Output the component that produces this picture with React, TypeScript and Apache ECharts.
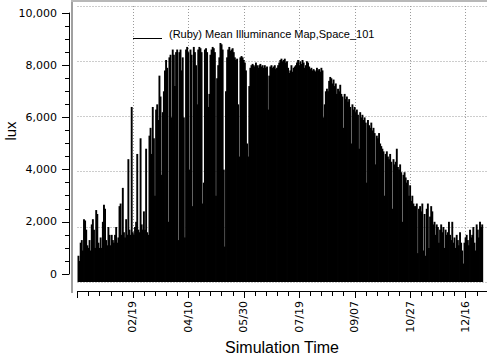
import React, { useEffect, useRef } from 'react';
import * as echarts from 'echarts';

// ---- data (daily peak illuminance, lux) ----
const seriesName = '(Ruby) Mean Illuminance Map,Space_101';
const xTickLabels = ['02/19', '04/10', '05/30', '07/19', '09/07', '10/27', '12/16'];
const jan = [700, 500, 1200, 1300, 900, 2100, 2050, 1700, 1100, 1000, 1300, 900, 1900, 2100, 1700, 1000, 2450, 2300, 1200, 1000, 1400, 1000, 2000, 2650, 2500, 1300, 1100, 1800, 1500, 1100, 1500];
const feb = [1300, 1200, 1500, 1800, 1200, 1400, 2600, 2700, 1500, 3300, 1600, 1400, 2100, 1500, 4400, 1700, 1500, 6400, 1600, 1500, 1800, 2000, 4600, 1700, 1600, 5200, 1900, 1700];
const mar = [2400, 1700, 4800, 1600, 1500, 5300, 5600, 4600, 6400, 5200, 3000, 6300, 6500, 5900, 7600, 6800, 3800, 6200, 7000, 7800, 8200, 7900, 2000, 8300, 8400, 6000, 8600, 8400, 7200, 8500, 8600];
const apr = [1300, 8500, 8600, 7800, 8300, 6000, 1400, 8600, 8700, 8500, 4000, 8600, 8400, 2600, 8700, 8500, 8000, 6500, 8600, 8700, 8650, 8500, 2700, 3500, 8600, 8650, 8500, 6400, 6900, 8400];
const may = [8600, 8700, 8650, 8500, 3000, 7500, 8000, 8300, 8850, 8800, 8600, 4000, 1050, 7000, 8300, 8600, 8700, 8550, 8600, 8650, 8500, 8300, 8200, 8250, 6500, 4500, 8300, 8350, 8300, 8200, 8100];
const jun = [7800, 5000, 4500, 7200, 7900, 8000, 8050, 8000, 7950, 8100, 8000, 7900, 8000, 8050, 7950, 8000, 7900, 8000, 7900, 7950, 6300, 7600, 7950, 8000, 7900, 7950, 8000, 7850, 7900, 8000];
const jul = [8100, 8200, 8250, 8150, 8200, 8250, 8100, 8150, 7900, 7700, 7800, 8000, 7750, 7900, 7950, 8000, 8100, 8200, 8000, 8150, 8050, 8200, 8100, 7900, 8000, 8150, 8100, 7950, 7850, 7900, 7800];
const aug = [7850, 7800, 7750, 7900, 7800, 7850, 7750, 7900, 7800, 6000, 6500, 7000, 7100, 7000, 7400, 7550, 7500, 7300, 7450, 7200, 7300, 6900, 7100, 7000, 7250, 6900, 6800, 5600, 6900, 6700, 6800];
const sep = [6600, 6700, 6400, 5000, 6500, 6300, 6400, 6200, 6300, 6100, 4800, 6200, 6000, 6100, 5900, 6000, 5800, 3500, 5900, 5700, 5600, 5800, 5500, 5600, 5400, 4200, 5300, 5200, 5400, 5000];
const oct = [4900, 4800, 4700, 3000, 4600, 4700, 4500, 4400, 4600, 4300, 2500, 4400, 4200, 4300, 4800, 4100, 4000, 4200, 3900, 2000, 3800, 3900, 3700, 3500, 3600, 3000, 3400, 2800, 3000, 2700, 2600];
const nov = [2600, 2700, 800, 2500, 2600, 2400, 2700, 900, 2300, 700, 2500, 2700, 1000, 2200, 2600, 2400, 1900, 2000, 1500, 1900, 1800, 1200, 1700, 1900, 1600, 1800, 1000, 1700, 1500, 1600];
const dec = [2000, 1500, 1300, 2000, 1200, 1400, 1000, 1500, 1300, 1100, 1600, 1200, 900, 400, 1200, 1400, 1500, 1300, 1100, 1700, 1400, 1500, 1800, 1200, 900, 1900, 1700, 1400, 2000, 1800, 1900];

const FONT = '"DejaVu Sans", Verdana, sans-serif';
const ARIAL = '"Liberation Sans", Arial, sans-serif';
const GRID_COLOR = '#9a9a9a';

export default function App() {
  const ref = useRef<HTMLDivElement>(null);
  useEffect(() => {
    if (!ref.current) return;
    const chart = echarts.init(ref.current, undefined, { renderer: 'svg' });
    const daily = [...jan, ...feb, ...mar, ...apr, ...may, ...jun, ...jul, ...aug, ...sep, ...oct, ...nov, ...dec];
    const data = daily.map((v, i) => [i, v]);
    const fmtThousands = (v: number) => String(v).replace(/\B(?=(\d{3})+(?!\d))/g, ',');

    chart.setOption({
      animation: false,
      backgroundColor: '#ffffff',
      grid: [
        { left: 77.5, right: -34.2, top: 6, bottom: 65, containLabel: false, outerBoundsMode: 'none' },
        { left: 77.5, right: -34.2, top: 6, bottom: 74, containLabel: false, outerBoundsMode: 'none' },
        { left: 69, right: 0, top: 13, bottom: 82, containLabel: false, outerBoundsMode: 'none' },
      ],
      xAxis: [
        {
          gridIndex: 0, type: 'value', min: 0, max: 400, interval: 10, position: 'bottom',
          axisLine: { onZero: false, lineStyle: { color: '#000', width: 1 } },
          axisTick: { length: 5, lineStyle: { color: '#000' } },
          axisLabel: { show: false }, splitLine: { show: false },
        },
        {
          gridIndex: 0, type: 'value', min: 0, max: 400, interval: 50, position: 'bottom',
          axisLine: { show: false, onZero: false },
          axisTick: { length: 7, lineStyle: { color: '#000' } },
          axisLabel: {
            rotate: 90, margin: 10, color: '#000', fontFamily: FONT, fontSize: 11,
            formatter: (v: number) => xTickLabels[v / 50 - 1] ?? '',
          },
          splitLine: { show: false },
        },
        {
          gridIndex: 1, type: 'value', min: 0, max: 400, interval: 50,
          axisLine: { show: false }, axisTick: { show: false }, axisLabel: { show: false },
          splitLine: { show: true, showMinLine: false, lineStyle: { color: GRID_COLOR, type: [1, 2], width: 1 } },
        },
        {
          gridIndex: 2, type: 'value', min: 0, max: 1, show: false,
        },
      ],
      yAxis: [
        { gridIndex: 0, type: 'value', min: 0, max: 1, show: false },
        { gridIndex: 1, type: 'value', min: -306, max: 10268, show: false },
        {
          gridIndex: 1, type: 'value', min: 0, max: 5, interval: 1, position: 'left',
          axisLine: { show: false }, axisTick: { show: false }, axisLabel: { show: false },
          splitLine: { show: true, lineStyle: { color: GRID_COLOR, type: [1, 2], width: 1 } },
        },
        {
          gridIndex: 2, type: 'value', min: 0, max: 10000, interval: 2000, position: 'left',
          axisLine: { show: true, onZero: false, lineStyle: { color: '#000', width: 1 } },
          axisTick: { show: true, length: 7, lineStyle: { color: '#000' } },
          minorTick: { show: true, splitNumber: 4, length: 4, lineStyle: { color: '#000' } },
          axisLabel: { margin: 12, color: '#000', fontFamily: FONT, fontSize: 11, formatter: fmtThousands },
          splitLine: { show: false },
        },
      ],
      series: [
        {
          name: seriesName,
          type: 'custom',
          xAxisIndex: 2,
          yAxisIndex: 1,
          clip: true,
          data,
          renderItem: (params: any, api: any) => {
            const x = api.value(0);
            const v = api.value(1);
            const p0 = api.coord([x, v]);
            const p1 = api.coord([x + 1, v]);
            const bottom = params.coordSys.y + params.coordSys.height;
            return {
              type: 'rect',
              shape: { x: p0[0], y: p0[1], width: p1[0] - p0[0] + 0.8, height: bottom - p0[1] },
              style: { fill: '#000' },
            };
          },
        },
      ],
      graphic: [
        { type: 'line', shape: { x1: 72, y1: 1, x2: 72, y2: 293 }, style: { stroke: '#a0a0a0', lineWidth: 2 }, z: 10 },
        { type: 'line', shape: { x1: 71, y1: 1, x2: 487, y2: 1 }, style: { stroke: '#b8b8b8', lineWidth: 2 }, z: 10 },
        { type: 'line', shape: { x1: 133, y1: 38.5, x2: 162, y2: 38.5 }, style: { stroke: '#000', lineWidth: 1 }, z: 10 },
        {
          type: 'text', x: 169, y: 33.5, z: 10,
          style: { text: seriesName, font: `11px ${ARIAL}`, fill: '#000', align: 'left', verticalAlign: 'middle', textAlign: 'left', textVerticalAlign: 'middle' },
        },
        {
          type: 'text', x: 10, y: 131, rotation: Math.PI / 2, z: 10,
          style: { text: 'lux', font: `15px ${ARIAL}`, fill: '#000', align: 'center', verticalAlign: 'middle', textAlign: 'center', textVerticalAlign: 'middle' },
        },
        {
          type: 'text', x: 282, y: 347, z: 10,
          style: { text: 'Simulation Time', font: `16px ${ARIAL}`, fill: '#000', align: 'center', verticalAlign: 'middle', textAlign: 'center', textVerticalAlign: 'middle' },
        },
      ],
    });
    return () => chart.dispose();
  }, []);
  return <div ref={ref} style={{ position: 'absolute', left: 0, top: 0, width: 487, height: 356, background: '#fff' }} />;
}
